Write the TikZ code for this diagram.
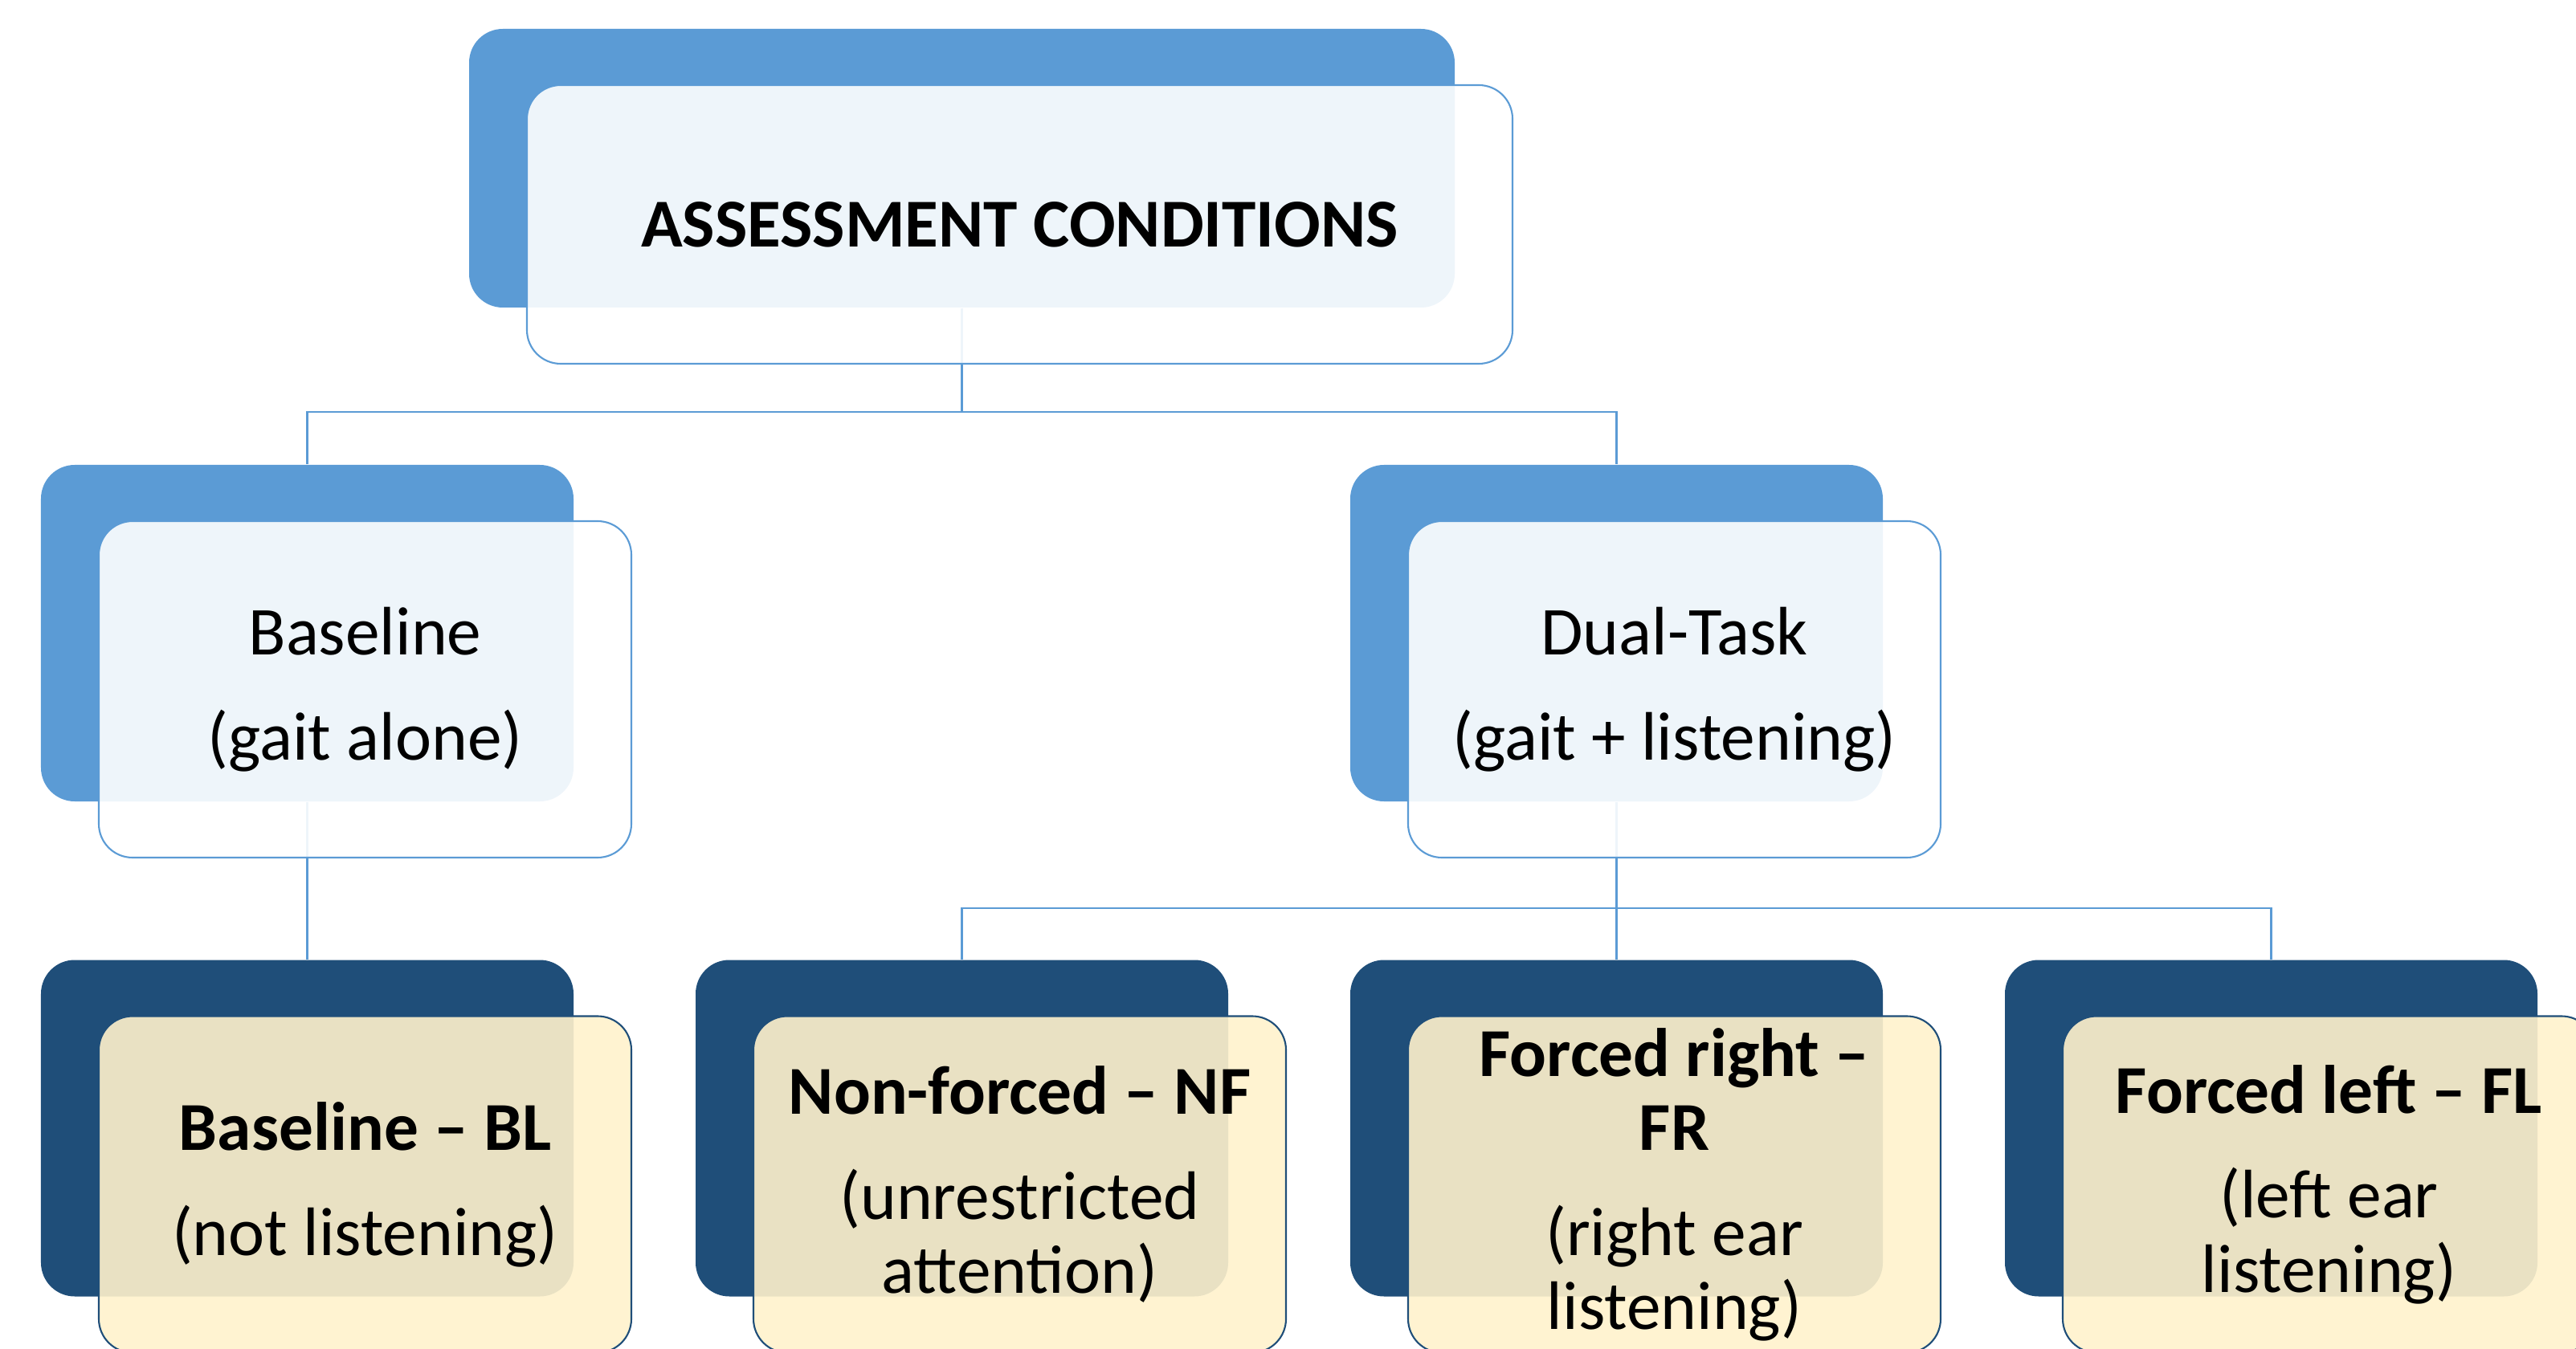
\documentclass[tikz,border=0pt]{standalone}
\usepackage{fontspec}
\setmainfont{Carlito}
\definecolor{midblue}{HTML}{5B9BD5}
\definecolor{darkblue}{HTML}{1F4E79}
\definecolor{paleyellow}{HTML}{FFF2CC}
\tikzset{
    card/.style={rounded corners=0.42cm, inner sep=0pt,
        minimum width=6.63cm, minimum height=4.19cm},
    backcard/.style={card, fill=#1},
    frontcard/.style={card, draw=#1, line width=0.6pt, fill opacity=0.9,
        text opacity=1, align=center, font=\fontsize{24.3}{26.2}\selectfont},
    link/.style={midblue, line width=0.6pt}
}
\begin{document}
\begin{tikzpicture}
        \useasboundingbox (0,0) rectangle (32.07,16.79);
        %riquadri dietro
        \node[backcard=midblue, minimum width=12.27cm, minimum height=3.47cm] (condb) at (11.975,14.695) {};
        \node[backcard=midblue] (baseb) at (3.825,8.905) {};
        \node[backcard=midblue] (dualb) at (20.125,8.905) {};
        \foreach \n/\x in {bl/3.825,nf/11.975,fr/20.125,fl/28.275} {
        \node[backcard=darkblue] (\n b) at (\x,2.74) {};}
        %collegamenti
        \coordinate (bus1) at (11.975,11.66);
        \coordinate (bus2) at (20.125,5.48);
        \draw[link] (condb.south) -- (bus1) -| (baseb.north);
        \draw[link] (bus1) -| (dualb.north);
        \draw[link] (baseb.south) -- (blb.north);
        \draw[link] (dualb.south) -- (bus2);
        \foreach \n in {nf,fr,fl} {
        \draw[link] (bus2) -| (\n b.north);}
        %riquadri davanti
        \node[frontcard=midblue, fill=white, minimum width=12.27cm, minimum height=3.47cm] (cond)
            at ([shift={(0.72,-0.7)}]condb.center) {\textbf{ASSESSMENT CONDITIONS}};
        \node[frontcard=midblue, fill=white] (base) at ([shift={(0.72,-0.7)}]baseb.center)
            {Baseline\\[11pt](gait alone)};
        \node[frontcard=midblue, fill=white] (dual) at ([shift={(0.72,-0.7)}]dualb.center)
            {Dual-Task\\[11pt](gait + listening)};
        \node[frontcard=darkblue, fill=paleyellow] (bl) at ([shift={(0.72,-0.7)}]blb.center)
            {\textbf{Baseline – BL}\\[11pt](not listening)};
        \node[frontcard=darkblue, fill=paleyellow] (nf) at ([shift={(0.72,-0.7)}]nfb.center)
            {\textbf{Non-forced – NF}\\[11pt](unrestricted\\attention)};
        \node[frontcard=darkblue, fill=paleyellow] (fr) at ([shift={(0.72,-0.7)}]frb.center)
            {\textbf{Forced right –}\\\textbf{FR}\\[11pt](right ear\\listening)};
        \node[frontcard=darkblue, fill=paleyellow] (fl) at ([shift={(0.72,-0.7)}]flb.center)
            {\textbf{Forced left – FL}\\[11pt](left ear\\listening)};
    \end{tikzpicture}
\end{document}
